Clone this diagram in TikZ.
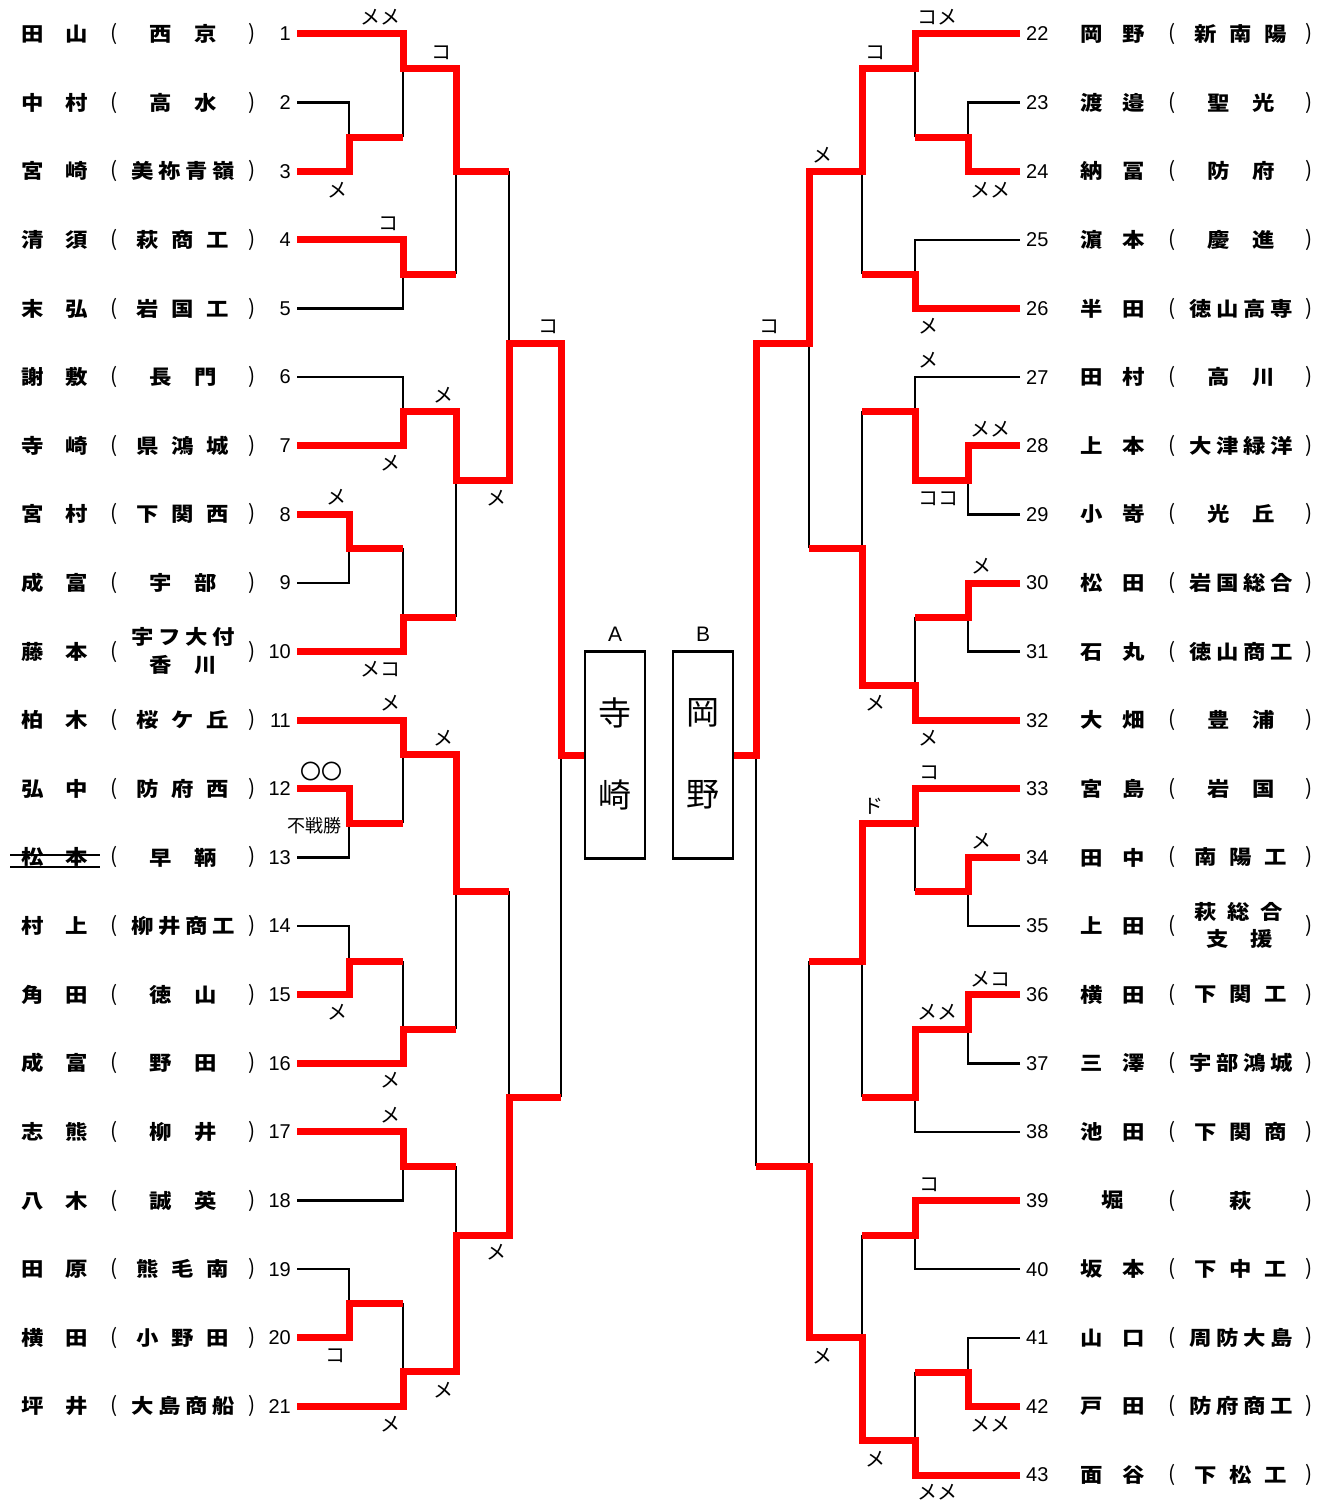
\documentclass[tikz,border=0pt]{standalone}
\usepackage{fontspec}
\setmainfont{Liberation Sans}
\newfontfamily\jp{Noto Sans CJK JP}
\newfontfamily\jpb{Noto Sans CJK JP}[FakeStretch=1.12]
\newcommand\Ktwo[3][45pt]{\makebox[#1]{#2}\makebox[#1]{#3}}
\newcommand\Kthree[4][35pt]{\makebox[#1]{#2}\makebox[#1]{#3}\makebox[#1]{#4}}
\newcommand\Kfour[4]{\makebox[27pt]{#1}\makebox[27pt]{#2}\makebox[27pt]{#3}\makebox[27pt]{#4}}
\tikzset{
  nm/.style={font=\jpb\bfseries\fontsize{20}{22}\selectfont, inner sep=0pt},
  pr/.style={font=\jp\fontsize{21}{23}\selectfont, inner sep=0pt},
  num/.style={font=\fontsize{20}{22}\selectfont, inner sep=0pt},
  lab/.style={font=\jp\fontsize{20}{22}\selectfont, inner sep=0pt},
  win/.style={draw=red, line width=7pt, line join=miter},
  lose/.style={draw=black, line width=2.5pt},
  finalbox/.style={draw=black, line width=2.5pt, minimum width=60pt, minimum height=207pt, inner sep=0pt},
  boxtext/.style={font=\jp\fontsize{33}{36}\selectfont, inner sep=0pt},
  boxlab/.style={font=\fontsize{21}{23}\selectfont, inner sep=0pt}
}
\newcommand\rowL[5]{%
  \node[nm] (n#1) at (55,#2) {#3};
  \node[pr] (lp#1) at (114,#2) {(};
  \node[nm] (s#1) at (183,#2) {#4};
  \node[pr] (rp#1) at (252,#2) {)};
  \node[num,anchor=east] (k#1) at (291,#2) {#5};
  \coordinate (e#1) at (297,#2);}
\newcommand\rowR[5]{%
  \node[num,anchor=west] (k#1) at (1026,#2) {#5};
  \node[nm] (n#1) at (1113,#2) {#3};
  \node[pr] (lp#1) at (1172,#2) {(};
  \node[nm] (s#1) at (1241,#2) {#4};
  \node[pr] (rp#1) at (1309,#2) {)};
  \coordinate (e#1) at (1020,#2);}
\begin{document}
\begin{tikzpicture}[x=1pt,y=-1pt]
\useasboundingbox[fill=white] (0,0) rectangle (1334,1504);
% left rows
\rowL{1}{34}{\Ktwo[44pt]{田}{山}}{\Ktwo{西}{京}}{1}
\rowL{2}{102.6}{\Ktwo[44pt]{中}{村}}{\Ktwo{高}{水}}{2}
\rowL{3}{171.2}{\Ktwo[44pt]{宮}{崎}}{\Kfour{美}{祢}{青}{嶺}}{3}
\rowL{4}{239.9}{\Ktwo[44pt]{清}{須}}{\Kthree{萩}{商}{工}}{4}
\rowL{5}{308.5}{\Ktwo[44pt]{末}{弘}}{\Kthree{岩}{国}{工}}{5}
\rowL{6}{377.1}{\Ktwo[44pt]{謝}{敷}}{\Ktwo{長}{門}}{6}
\rowL{7}{445.7}{\Ktwo[44pt]{寺}{崎}}{\Kthree{県}{鴻}{城}}{7}
\rowL{8}{514.3}{\Ktwo[44pt]{宮}{村}}{\Kthree{下}{関}{西}}{8}
\rowL{9}{583.0}{\Ktwo[44pt]{成}{富}}{\Ktwo{宇}{部}}{9}
\rowL{10}{651.6}{\Ktwo[44pt]{藤}{本}}{}{10}
\node[nm] (s10a) at (183,637) {\Kfour{宇}{フ}{大}{付}};
\node[nm] (s10b) at (183,665) {\Ktwo{香}{川}};
\rowL{11}{720.2}{\Ktwo[44pt]{柏}{木}}{\Kthree{桜}{ケ}{丘}}{11}
\rowL{12}{788.8}{\Ktwo[44pt]{弘}{中}}{\Kthree{防}{府}{西}}{12}
\rowL{13}{857.4}{\Ktwo[44pt]{松}{本}}{\Ktwo{早}{鞆}}{13}
\rowL{14}{926.1}{\Ktwo[44pt]{村}{上}}{\Kfour{柳}{井}{商}{工}}{14}
\rowL{15}{994.7}{\Ktwo[44pt]{角}{田}}{\Ktwo{徳}{山}}{15}
\rowL{16}{1063.3}{\Ktwo[44pt]{成}{富}}{\Ktwo{野}{田}}{16}
\rowL{17}{1131.9}{\Ktwo[44pt]{志}{熊}}{\Ktwo{柳}{井}}{17}
\rowL{18}{1200.5}{\Ktwo[44pt]{八}{木}}{\Ktwo{誠}{英}}{18}
\rowL{19}{1269.2}{\Ktwo[44pt]{田}{原}}{\Kthree{熊}{毛}{南}}{19}
\rowL{20}{1337.8}{\Ktwo[44pt]{横}{田}}{\Kthree{小}{野}{田}}{20}
\rowL{21}{1406.4}{\Ktwo[44pt]{坪}{井}}{\Kfour{大}{島}{商}{船}}{21}
% strike on 13
\draw[line width=1.5pt] (10,855) coordinate (st1) -- (100,855) coordinate (st2);
\draw[line width=1.5pt] (10,867) coordinate (st3) -- (100,867) coordinate (st4);
% right rows
\rowR{22}{34}{\Ktwo[42pt]{岡}{野}}{\Kthree{新}{南}{陽}}{22}
\rowR{23}{102.6}{\Ktwo[42pt]{渡}{邉}}{\Ktwo{聖}{光}}{23}
\rowR{24}{171.2}{\Ktwo[42pt]{納}{冨}}{\Ktwo{防}{府}}{24}
\rowR{25}{239.9}{\Ktwo[42pt]{濵}{本}}{\Ktwo{慶}{進}}{25}
\rowR{26}{308.5}{\Ktwo[42pt]{半}{田}}{\Kfour{徳}{山}{高}{専}}{26}
\rowR{27}{377.1}{\Ktwo[42pt]{田}{村}}{\Ktwo{高}{川}}{27}
\rowR{28}{445.7}{\Ktwo[42pt]{上}{本}}{\Kfour{大}{津}{緑}{洋}}{28}
\rowR{29}{514.3}{\Ktwo[42pt]{小}{嵜}}{\Ktwo{光}{丘}}{29}
\rowR{30}{583.0}{\Ktwo[42pt]{松}{田}}{\Kfour{岩}{国}{総}{合}}{30}
\rowR{31}{651.6}{\Ktwo[42pt]{石}{丸}}{\Kfour{徳}{山}{商}{工}}{31}
\rowR{32}{720.2}{\Ktwo[42pt]{大}{畑}}{\Ktwo{豊}{浦}}{32}
\rowR{33}{788.8}{\Ktwo[42pt]{宮}{島}}{\Ktwo{岩}{国}}{33}
\rowR{34}{857.4}{\Ktwo[42pt]{田}{中}}{\Kthree{南}{陽}{工}}{34}
\rowR{35}{926.1}{\Ktwo[42pt]{上}{田}}{}{35}
\node[nm] (s35a) at (1239,912) {\Kthree[33pt]{萩}{総}{合}};
\node[nm] (s35b) at (1240,939) {\Ktwo[44pt]{支}{援}};
\rowR{36}{994.7}{\Ktwo[42pt]{横}{田}}{\Kthree{下}{関}{工}}{36}
\rowR{37}{1063.3}{\Ktwo[42pt]{三}{澤}}{\Kfour{宇}{部}{鴻}{城}}{37}
\rowR{38}{1131.9}{\Ktwo[42pt]{池}{田}}{\Kthree{下}{関}{商}}{38}
\rowR{39}{1200.5}{堀}{萩}{39}
\rowR{40}{1269.2}{\Ktwo[42pt]{坂}{本}}{\Kthree{下}{中}{工}}{40}
\rowR{41}{1337.8}{\Ktwo[42pt]{山}{口}}{\Kfour{周}{防}{大}{島}}{41}
\rowR{42}{1406.4}{\Ktwo[42pt]{戸}{田}}{\Kfour{防}{府}{商}{工}}{42}
\rowR{43}{1475.0}{\Ktwo[42pt]{面}{谷}}{\Kthree{下}{松}{工}}{43}
% final boxes
\node[finalbox] (boxA) at (615,755) {};
\node[finalbox] (boxB) at (703,755) {};
\node[boxlab] (labA) at (615,634) {A};
\node[boxlab] (labB) at (703,634) {B};
\node[boxtext] (tA1) at (615,713) {寺};
\node[boxtext] (tA2) at (615,795) {崎};
\node[boxtext] (tB1) at (703,713) {岡};
\node[boxtext] (tB2) at (703,795) {野};
% left losing lines
\draw[lose] (e2) -| (349,137);
\draw[lose] (403,69) -- (403,137);
\draw[lose] (e5) -| (403,274);
\draw[lose] (456,171) -- (456,274);
\draw[lose] (509,171) -- (509,343);
\draw[lose] (e6) -| (403,411);
\draw[lose] (e9) -| (349,548);
\draw[lose] (403,548) -- (403,617);
\draw[lose] (456,480) -- (456,617);
\draw[lose] (e13) -| (349,823);
\draw[lose] (403,754) -- (403,823);
\draw[lose] (e14) -| (349,961);
\draw[lose] (403,961) -- (403,1029);
\draw[lose] (456,891) -- (456,1029);
\draw[lose] (e18) -| (403,1166);
\draw[lose] (e19) -| (349,1303);
\draw[lose] (403,1303) -- (403,1371);
\draw[lose] (456,1166) -- (456,1235);
\draw[lose] (509,891) -- (509,1097);
\draw[lose] (561,755) -- (561,1097);
% right losing lines
\draw[lose] (e23) -| (968,137);
\draw[lose] (915,69) -- (915,137);
\draw[lose] (e25) -| (915,274);
\draw[lose] (862,171) -- (862,274);
\draw[lose] (809,343) -- (809,548);
\draw[lose] (e27) -| (915,411);
\draw[lose] (e29) -| (968,480);
\draw[lose] (e31) -| (968,617);
\draw[lose] (915,617) -- (915,685);
\draw[lose] (862,411) -- (862,548);
\draw[lose] (e35) -| (968,891);
\draw[lose] (915,823) -- (915,891);
\draw[lose] (e37) -| (968,1029);
\draw[lose] (e38) -| (915,1097);
\draw[lose] (862,961) -- (862,1097);
\draw[lose] (e40) -| (915,1235);
\draw[lose] (e41) -| (968,1372);
\draw[lose] (915,1372) -- (915,1440);
\draw[lose] (862,1235) -- (862,1337);
\draw[lose] (809,961) -- (809,1166);
\draw[lose] (756,755) -- (756,1166);
% left winning lines
\draw[win] (e1) -| (403,69) -- (456,69) |- (509,171);
\draw[win] (e3) -| (349,137) -- (403,137);
\draw[win] (e4) -| (403,274) -- (456,274);
\draw[win] (e7) -| (403,411) -- (456,411) |- (509,480) |- (561,343) |- (boxA.west);
\draw[win] (e8) -| (349,548) -- (403,548);
\draw[win] (e10) -| (403,617) -- (456,617);
\draw[win] (e11) -| (403,754) -- (456,754) |- (509,891);
\draw[win] (e12) -| (349,823) -- (403,823);
\draw[win] (e15) -| (349,961) -- (403,961);
\draw[win] (e16) -| (403,1029) -- (456,1029);
\draw[win] (e17) -| (403,1166) -- (456,1166);
\draw[win] (e20) -| (349,1303) -- (403,1303);
\draw[win] (e21) -| (403,1371) -- (456,1371) |- (509,1235) |- (561,1097);
% right winning lines
\draw[win] (e22) -| (915,69) -- (862,69) |- (809,171) |- (756,343) |- (boxB.east);
\draw[win] (e24) -| (968,137) -- (915,137);
\draw[win] (e26) -| (915,274) -- (862,274);
\draw[win] (e28) -| (968,480) -- (915,480) |- (862,411);
\draw[win] (e30) -| (968,617) -- (915,617);
\draw[win] (e32) -| (915,685) -- (862,685) |- (809,548);
\draw[win] (e33) -| (915,823) -- (862,823) |- (809,961);
\draw[win] (e34) -| (968,891) -- (915,891);
\draw[win] (e36) -| (968,1029) -- (915,1029) |- (862,1097);
\draw[win] (e39) -| (915,1235) -- (862,1235);
\draw[win] (e42) -| (968,1372) -- (915,1372);
\draw[win] (e43) -| (915,1440) -- (862,1440) |- (809,1337) |- (756,1166);
% left labels
\node[lab] (L1) at (380,17) {メメ};
\node[lab] (L2) at (441,53) {コ};
\node[lab] (L3) at (337,190) {メ};
\node[lab] (L4) at (388,224) {コ};
\node[lab] (L5) at (548,327) {コ};
\node[lab] (L6) at (443,395) {メ};
\node[lab] (L7) at (390,463) {メ};
\node[lab] (L8) at (496,498) {メ};
\node[lab] (L9) at (336,497) {メ};
\node[lab] (L10) at (380,669) {メコ};
\node[lab] (L11) at (390,703) {メ};
\node[lab] (L12) at (443,738) {メ};
\node[font=\jp\fontsize{21}{23}\selectfont, inner sep=0pt] (L13) at (321,772) {〇〇};
\node[font=\jp\fontsize{18}{20}\selectfont, inner sep=0pt] (L14) at (314,826) {不戦勝};
\node[lab] (L15) at (337,1012) {メ};
\node[lab] (L16) at (390,1080) {メ};
\node[lab] (L17) at (390,1115) {メ};
\node[lab] (L18) at (496,1252) {メ};
\node[lab] (L19) at (335,1356) {コ};
\node[lab] (L20) at (443,1390) {メ};
\node[lab] (L21) at (390,1424) {メ};
% right labels
\node[lab] (R1) at (937,17) {コメ};
\node[lab] (R2) at (875,53) {コ};
\node[lab] (R3) at (822,155) {メ};
\node[lab] (R4) at (990,190) {メメ};
\node[lab] (R5) at (769,327) {コ};
\node[lab] (R6) at (928,326) {メ};
\node[lab] (R7) at (928,360) {メ};
\node[lab] (R8) at (990,429) {メメ};
\node[lab] (R9) at (938,499) {ココ};
\node[lab] (R10) at (981,566) {メ};
\node[lab] (R11) at (875,703) {メ};
\node[lab] (R12) at (928,738) {メ};
\node[lab] (R13) at (929,773) {コ};
\node[lab] (R14) at (873,806) {ド};
\node[lab] (R15) at (981,841) {メ};
\node[lab] (R16) at (990,979) {メコ};
\node[lab] (R17) at (937,1012) {メメ};
\node[lab] (R18) at (929,1185) {コ};
\node[lab] (R19) at (822,1356) {メ};
\node[lab] (R20) at (990,1424) {メメ};
\node[lab] (R21) at (875,1459) {メ};
\node[lab] (R22) at (937,1492) {メメ};
\end{tikzpicture}
\end{document}
